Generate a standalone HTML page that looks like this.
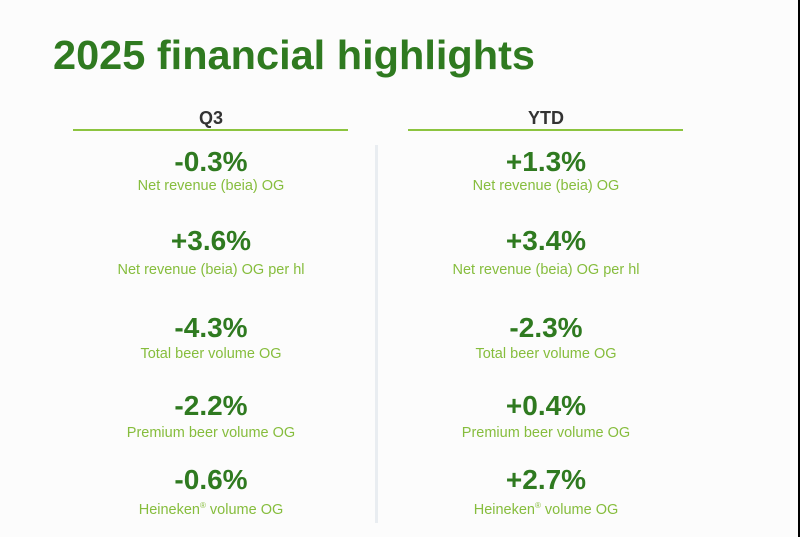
<!DOCTYPE html>
<html><head><style>
html,body{margin:0;padding:0;background:#fcfcfc;}
svg{display:block;}
</style></head><body>
<svg width="800" height="537" viewBox="0 0 800 537" xmlns="http://www.w3.org/2000/svg" font-family="Liberation Sans, sans-serif">
<rect width="800" height="537" fill="#fcfcfc"/>
<rect x="798" y="0" width="2" height="537" fill="#000"/>
<text x="53" y="69" font-size="41" font-weight="bold" fill="#2f7a20" textLength="482" lengthAdjust="spacingAndGlyphs">2025 financial highlights</text>
<text x="211" y="124" font-size="18" font-weight="bold" fill="#333" text-anchor="middle">Q3</text>
<text x="546" y="124" font-size="18" font-weight="bold" fill="#333" text-anchor="middle">YTD</text>
<rect x="73" y="129" width="275" height="2" fill="#8cc43f"/>
<rect x="408" y="129" width="275" height="2" fill="#8cc43f"/>
<rect x="375" y="145" width="3" height="378" fill="#e9edf1"/>
<g font-size="28" font-weight="bold" fill="#2f7a20" text-anchor="middle">
<text x="211" y="171">-0.3%</text>
<text x="211" y="250">+3.6%</text>
<text x="211" y="337">-4.3%</text>
<text x="211" y="415">-2.2%</text>
<text x="211" y="489">-0.6%</text>
<text x="546" y="171">+1.3%</text>
<text x="546" y="250">+3.4%</text>
<text x="546" y="337">-2.3%</text>
<text x="546" y="415">+0.4%</text>
<text x="546" y="489">+2.7%</text>
</g>
<g font-size="14.5" fill="#86bd3d" text-anchor="middle">
<text x="211" y="190">Net revenue (beia) OG</text>
<text x="211" y="274">Net revenue (beia) OG per hl</text>
<text x="211" y="358">Total beer volume OG</text>
<text x="211" y="437">Premium beer volume OG</text>
<text x="211" y="514">Heineken<tspan font-size="8" dy="-6">®</tspan><tspan dy="6"> volume OG</tspan></text>
<text x="546" y="190">Net revenue (beia) OG</text>
<text x="546" y="274">Net revenue (beia) OG per hl</text>
<text x="546" y="358">Total beer volume OG</text>
<text x="546" y="437">Premium beer volume OG</text>
<text x="546" y="514">Heineken<tspan font-size="8" dy="-6">®</tspan><tspan dy="6"> volume OG</tspan></text>
</g>
</svg>
</body></html>
